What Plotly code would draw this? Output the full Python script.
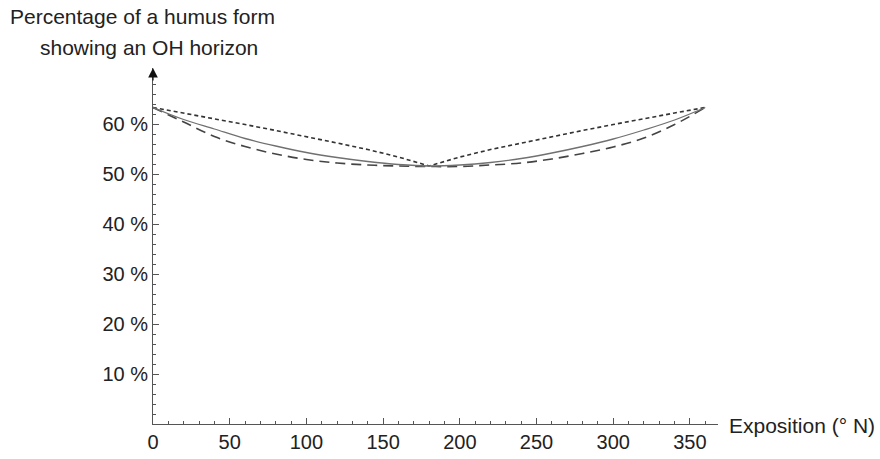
import plotly.graph_objects as go

# Exposition (degrees N)
exposition = [0, 20, 40, 60, 80, 100, 120, 140, 160, 180, 200, 220, 240, 260, 280, 300, 320, 340, 360]
# Solid curve (%)
solid_vals = [63.3, 60.9, 59.0, 57.1, 55.6, 54.3, 53.3, 52.5, 51.9, 51.6, 51.8, 52.3, 53.1, 54.2, 55.5, 57.0, 58.8, 60.8, 63.3]
# Dashed curve (%)
dashed_vals = [63.3, 60.4, 57.5, 55.5, 54.0, 52.9, 52.2, 51.8, 51.6, 51.5, 51.5, 51.8, 52.2, 53.0, 54.1, 55.4, 57.2, 59.9, 63.3]
# Dotted curve (%)
dotted_vals = [63.3, 62.2, 61.1, 59.9, 58.7, 57.5, 56.2, 54.9, 53.4, 51.6, 53.4, 54.9, 56.2, 57.5, 58.7, 59.9, 61.1, 62.2, 63.3]

x_ticks = [0, 50, 100, 150, 200, 250, 300, 350]
y_ticks = [10, 20, 30, 40, 50, 60]
y_ticktext = ["10 %", "20 %", "30 %", "40 %", "50 %", "60 %"]

FONT = "Liberation Sans, Arial, sans-serif"

fig = go.Figure()
fig.add_trace(go.Scatter(x=exposition, y=dotted_vals, mode="lines",
                         line=dict(color="#333333", width=1.6, dash="4px,3px")))
fig.add_trace(go.Scatter(x=exposition, y=dashed_vals, mode="lines", line_shape="spline",
                         line=dict(color="#444444", width=1.6, dash="10px,6px")))
fig.add_trace(go.Scatter(x=exposition, y=solid_vals, mode="lines", line_shape="spline",
                         line=dict(color="#707070", width=1.3)))

fig.update_layout(
    width=880, height=459,
    margin=dict(l=153, r=162, t=68, b=35),
    paper_bgcolor="white", plot_bgcolor="white",
    showlegend=False,
    font=dict(family=FONT, size=20, color="#222222"),
    xaxis=dict(range=[0, 368.3], showgrid=False, zeroline=False, automargin=False,
               showline=True, linecolor="#555555", linewidth=1,
               tickmode="array", tickvals=x_ticks, ticks="inside", ticklen=6,
               tickcolor="#555555", tickfont=dict(size=20, family=FONT, color="#222222"),
               minor=dict(tickmode="linear", tick0=0, dtick=10, ticks="inside",
                          ticklen=3, tickcolor="#555555")),
    yaxis=dict(range=[0, 71.2], showgrid=False, zeroline=False, automargin=False,
               showline=True, linecolor="#555555", linewidth=1,
               tickmode="array", tickvals=y_ticks, ticktext=y_ticktext,
               ticks="inside", ticklen=6, tickcolor="#555555",
               tickfont=dict(size=20, family=FONT, color="#222222"),
               minor=dict(tickmode="linear", tick0=0, dtick=2, ticks="inside",
                          ticklen=3, tickcolor="#555555")),
)

# y-axis arrow
fig.add_annotation(x=0, y=71.2, xref="x", yref="y", text="", showarrow=True,
                   arrowhead=2, arrowsize=1.6, arrowwidth=1.2, arrowcolor="#111111",
                   ax=0, ay=14)

# axis titles
fig.add_annotation(x=(8 - 153) / 565, y=(424 - 16) / 356, xref="paper", yref="paper",
                   text="Percentage of a humus form", showarrow=False,
                   xanchor="left", yanchor="middle", font=dict(size=21, family=FONT, color="#222222"))
fig.add_annotation(x=(38 - 153) / 565, y=(424 - 47) / 356, xref="paper", yref="paper",
                   text="showing an OH horizon", showarrow=False,
                   xanchor="left", yanchor="middle", font=dict(size=21, family=FONT, color="#222222"))
fig.add_annotation(x=(727 - 153) / 565, y=(424 - 426) / 356, xref="paper", yref="paper",
                   text="Exposition (° N)", showarrow=False,
                   xanchor="left", yanchor="middle", font=dict(size=21, family=FONT, color="#222222"))

fig.write_html("out.html")
